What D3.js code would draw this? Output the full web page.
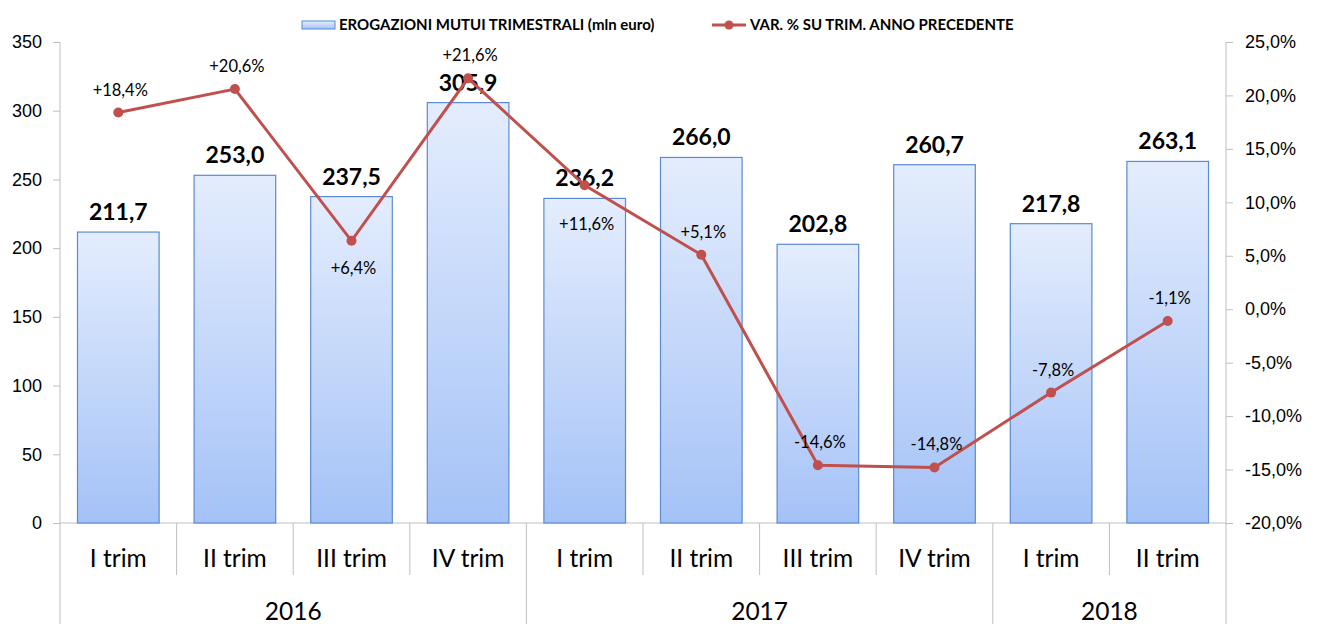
<!DOCTYPE html>
<html>
<head>
<meta charset="utf-8">
<script src="https://cdn.jsdelivr.net/npm/d3@7"></script>
<style>
  body { margin: 0; background: #fff; }
  svg { font-family: Lato, "Open Sans", sans-serif; }
</style>
</head>
<body>
<div class="svg"></div>
<script>
const quarters = ['I trim', 'II trim', 'III trim', 'IV trim', 'I trim', 'II trim', 'III trim', 'IV trim', 'I trim', 'II trim'];
const years = [{ year: '2016', from: 0, to: 4 }, { year: '2017', from: 4, to: 8 }, { year: '2018', from: 8, to: 10 }];
const erogazioni = [211.7, 253.0, 237.5, 305.9, 236.2, 266.0, 202.8, 260.7, 217.8, 263.1];
const variazione = [18.4, 20.6, 6.4, 21.6, 11.6, 5.1, -14.6, -14.8, -7.8, -1.1];
const labelPlace = ['above', 'above', 'below', 'above', 'belowFar', 'above', 'above', 'above', 'above', 'above'];
const leftTicks = [0, 50, 100, 150, 200, 250, 300, 350];
const rightTicks = [-20, -15, -10, -5, 0, 5, 10, 15, 20, 25];
const legendBar = 'EROGAZIONI MUTUI TRIMESTRALI (mln euro)';
const legendLine = 'VAR. % SU TRIM. ANNO PRECEDENTE';

const W = 1319, H = 624;
const margin = { top: 42, right: 93, bottom: 101, left: 60 };
const width = W - margin.left - margin.right;
const height = H - margin.top - margin.bottom;
const axisColor = '#bfbfbf';
const lineColor = '#c0504d';
const labelOffset = { above: -17, below: 33, belowFar: 45 };

const fmt = v => v.toFixed(1).replace('.', ',');
const fmtPct = v => (v > 0 ? '+' : '') + fmt(v) + '%';

const svg = d3.select('.svg').append('svg')
  .attr('width', W)
  .attr('height', H);

const defs = svg.append('defs');
const grad = defs.append('linearGradient')
  .attr('id', 'barGrad')
  .attr('x1', 0).attr('y1', 0).attr('x2', 0).attr('y2', 1);
grad.append('stop').attr('offset', '0%').attr('stop-color', '#e4edfd');
grad.append('stop').attr('offset', '100%').attr('stop-color', '#a4c2f7');

const g = svg.append('g').attr('transform', `translate(${margin.left}, ${margin.top})`);

const xScale = d3.scaleBand()
  .domain(d3.range(quarters.length))
  .range([0, width])
  .paddingInner(0.3)
  .paddingOuter(0.15);

const step = xScale.step();

const yScale = d3.scaleLinear().domain([0, 350]).range([height, 0]);
const y2Scale = d3.scaleLinear().domain([-20, 25]).range([height, 0]);

// left axis
const yAxis = g.append('g')
  .call(d3.axisLeft(yScale).tickValues(leftTicks).tickSize(7));
yAxis.select('.domain').remove();
yAxis.selectAll('line').attr('stroke', axisColor);
yAxis.selectAll('text').attr('font-size', 18).attr('fill', '#000').attr('x', -18).style('text-anchor', 'end');

// right axis
const y2Axis = g.append('g')
  .attr('transform', `translate(${width}, 0)`)
  .call(d3.axisRight(y2Scale).tickValues(rightTicks).tickSize(7).tickFormat(d => fmt(d) + '%'));
y2Axis.select('.domain').remove();
y2Axis.selectAll('line').attr('stroke', axisColor);
y2Axis.selectAll('text').attr('font-size', 18).attr('fill', '#000').attr('x', 19);

// frame lines
g.append('line').attr('x1', 0).attr('x2', 0).attr('y1', 0).attr('y2', H - margin.top).attr('stroke', axisColor);
g.append('line').attr('x1', width).attr('x2', width).attr('y1', 0).attr('y2', H - margin.top).attr('stroke', axisColor);
g.append('line').attr('x1', 0).attr('x2', width).attr('y1', height).attr('y2', height).attr('stroke', axisColor);

// category separators
g.selectAll('.sep')
  .data(d3.range(1, quarters.length))
  .enter().append('line')
  .attr('class', 'sep')
  .attr('x1', d => d * step).attr('x2', d => d * step)
  .attr('y1', height)
  .attr('y2', d => years.some(y => y.from === d) ? H - margin.top : height + 52)
  .attr('stroke', axisColor);

// quarter labels
g.selectAll('.qlabel')
  .data(quarters)
  .enter().append('text')
  .attr('class', 'qlabel')
  .attr('x', (d, i) => xScale(i) + xScale.bandwidth() / 2)
  .attr('y', height + 44)
  .attr('text-anchor', 'middle')
  .attr('font-size', 24.5)
  .text(d => d);

// year labels
g.selectAll('.ylabel')
  .data(years)
  .enter().append('text')
  .attr('class', 'ylabel')
  .attr('x', d => (d.from + d.to) / 2 * step)
  .attr('y', height + 97)
  .attr('text-anchor', 'middle')
  .attr('font-size', 24.5)
  .text(d => d.year);

// bars
g.selectAll('.bar')
  .data(erogazioni)
  .enter().append('rect')
  .attr('class', 'bar')
  .attr('x', (d, i) => xScale(i))
  .attr('y', d => yScale(d))
  .attr('width', xScale.bandwidth())
  .attr('height', d => height - yScale(d))
  .attr('fill', 'url(#barGrad)')
  .attr('stroke', '#5b8bd0')
  .attr('stroke-width', 1.2);

g.selectAll('.barlabel')
  .data(erogazioni)
  .enter().append('text')
  .attr('class', 'barlabel')
  .attr('x', (d, i) => xScale(i) + xScale.bandwidth() / 2)
  .attr('y', d => yScale(d) - 12)
  .attr('text-anchor', 'middle')
  .attr('font-size', 23)
  .attr('font-weight', 'bold')
  .text(d => fmt(d));

// line
const cx = i => xScale(i) + xScale.bandwidth() / 2;
const line = d3.line()
  .x((d, i) => cx(i))
  .y(d => y2Scale(d));

g.append('path')
  .datum(variazione)
  .attr('d', line)
  .attr('fill', 'none')
  .attr('stroke', lineColor)
  .attr('stroke-width', 3);

g.selectAll('.dot')
  .data(variazione)
  .enter().append('circle')
  .attr('class', 'dot')
  .attr('cx', (d, i) => cx(i))
  .attr('cy', d => y2Scale(d))
  .attr('r', 5)
  .attr('fill', lineColor);

g.selectAll('.pctlabel')
  .data(variazione)
  .enter().append('text')
  .attr('class', 'pctlabel')
  .attr('x', (d, i) => cx(i) + 2)
  .attr('y', (d, i) => y2Scale(d) + labelOffset[labelPlace[i]])
  .attr('text-anchor', 'middle')
  .attr('font-size', 16.5)
  .text(d => fmtPct(d));

// legend
const legend = svg.append('g').attr('font-size', 15).attr('font-weight', 'bold');
legend.append('rect')
  .attr('x', 302).attr('y', 21).attr('width', 33).attr('height', 8)
  .attr('fill', 'url(#barGrad)').attr('stroke', '#5b8bd0');
legend.append('text').attr('x', 339).attr('y', 30).text(legendBar);
legend.append('line')
  .attr('x1', 712).attr('x2', 746).attr('y1', 25).attr('y2', 25)
  .attr('stroke', lineColor).attr('stroke-width', 3);
legend.append('circle').attr('cx', 729).attr('cy', 25).attr('r', 4.5).attr('fill', lineColor);
legend.append('text').attr('x', 750).attr('y', 30).text(legendLine);
</script>
</body>
</html>
